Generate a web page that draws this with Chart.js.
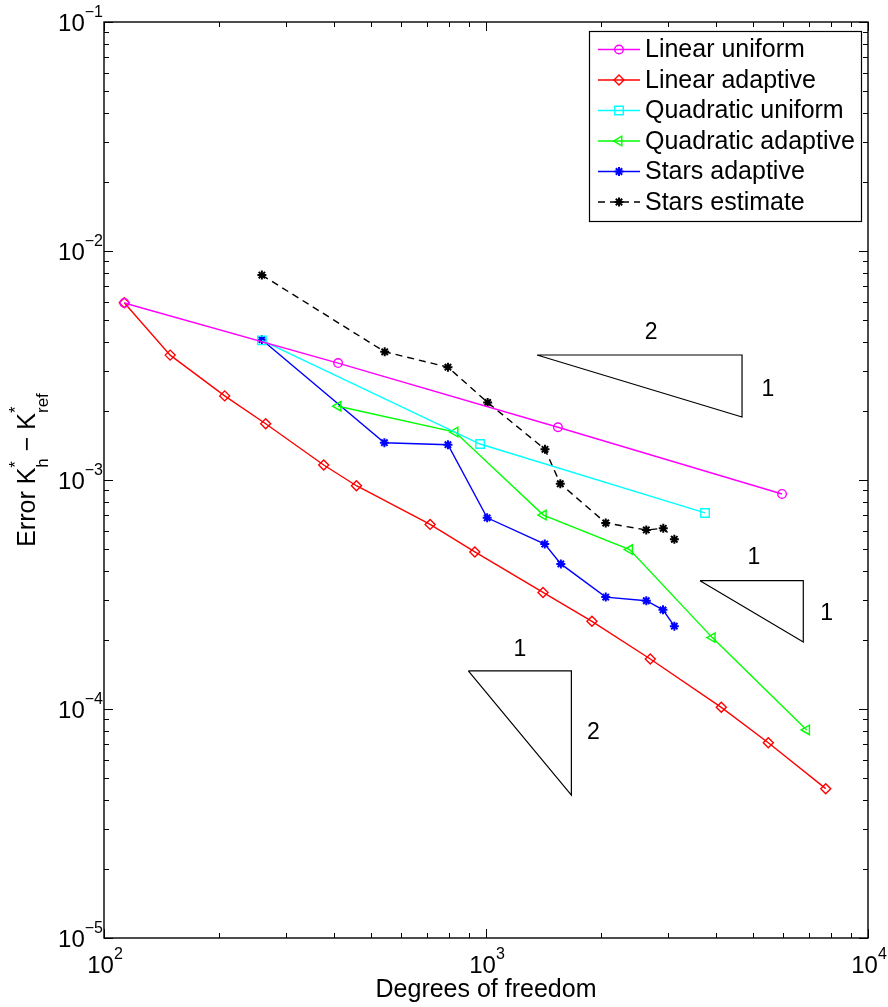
<!DOCTYPE html>
<html>
<head>
<meta charset="utf-8">
<script src="https://cdn.jsdelivr.net/npm/chart.js@4.4.1/dist/chart.umd.min.js"></script>
<style>
html, body { margin: 0; padding: 0; background: #fff; }
canvas { display: block; }
</style>
</head>
<body>
<canvas id="errChart" width="888" height="1007" style="width:888px;height:1007px"></canvas>
<script>
// values
const linUniX = [113, 410, 1543, 5957];
const linUniY = [5.93e-3, 3.24e-3, 1.70e-3, 8.69e-4];
const linAdaX = [113, 149, 207, 265, 376, 458, 714, 935, 1410, 1894, 2692, 4130, 5483, 7751];
const linAdaY = [5.94e-3, 3.51e-3, 2.33e-3, 1.76e-3, 1.163e-3, 9.44e-4, 6.40e-4, 4.85e-4, 3.23e-4, 2.415e-4, 1.653e-4, 1.017e-4, 7.12e-5, 4.49e-5];
const quadUniX = [259, 965, 3745];
const quadUniY = [4.07e-3, 1.436e-3, 7.18e-4];
const quadAdaX = [410, 830, 1413, 2377, 3912, 6910];
const quadAdaY = [2.10e-3, 1.62e-3, 7.03e-4, 4.97e-4, 2.05e-4, 8.1e-5];
const starsAdaX = [259, 542, 795, 1007, 1425, 1570, 2058, 2628, 2906, 3112];
const starsAdaY = [4.10e-3, 1.455e-3, 1.426e-3, 6.84e-4, 5.25e-4, 4.30e-4, 3.08e-4, 2.97e-4, 2.71e-4, 2.30e-4];
const starsEstX = [259, 543, 795, 1010, 1427, 1565, 2058, 2628, 2911, 3112];
const starsEstY = [7.85e-3, 3.63e-3, 3.11e-3, 2.18e-3, 1.362e-3, 9.63e-4, 6.49e-4, 6.05e-4, 6.15e-4, 5.51e-4];

// slope triangles: [left, right] x and [top, bottom] y
const slopeX = [[1360, 4680], [3633, 6770], [899, 1673]];
const slopeY = [[3.514e-3, 1.884e-3], [3.633e-4, 1.962e-4], [1.466e-4, 4.21e-5]];
const slopeText = ['2', '1', '1', '1', '1', '2'];
const slopeTextX = [2704, 5470, 5030, 7798, 1227, 1910];
const slopeTextY = [4.43e-3, 2.497e-3, 4.62e-4, 2.645e-4, 1.841e-4, 7.96e-5];

const xDecades = [2, 3, 4];
const yDecades = [-5, -4, -3, -2, -1];

const FONT = '"Liberation Sans", Arial, Helvetica, sans-serif';

function pts(xs, ys) {
    return xs.map((x, i) => ({x: x, y: ys[i]}));
}

function series(label, xs, ys, color, style, r, extra) {
    return Object.assign({
        label: label,
        data: pts(xs, ys),
        borderColor: color,
        borderWidth: 1.4,
        pointStyle: style,
        pointRadius: r,
        pointHoverRadius: r,
        pointBorderColor: color,
        pointBackgroundColor: 'rgba(0,0,0,0)',
        pointBorderWidth: 1.4,
        fill: false,
        tension: 0,
        inLegend: true
    }, extra || {});
}

let datasets = [
    series('Linear uniform', linUniX, linUniY, '#ff00ff', 'circle', 4.3),
    series('Linear adaptive', linAdaX, linAdaY, '#ff0000', 'rectRot', 5),
    series('Quadratic uniform', quadUniX, quadUniY, '#00ffff', 'rect', 6),
    series('Quadratic adaptive', quadAdaX, quadAdaY, '#00ff00', 'triangle', 5.5, {pointRotation: -90}),
    series('Stars adaptive', starsAdaX, starsAdaY, '#0000ff', 'star', 4.5, {pointBorderWidth: 2}),
    series('Stars estimate', starsEstX, starsEstY, '#000000', 'star', 4.5, {pointBorderWidth: 2, borderDash: [7, 5]})
];

slopeX.forEach((sx, i) => {
    let sy = slopeY[i];
    datasets.push({
        label: '',
        data: [{x: sx[0], y: sy[0]}, {x: sx[1], y: sy[0]}, {x: sx[1], y: sy[1]}, {x: sx[0], y: sy[0]}],
        borderColor: '#000',
        borderWidth: 1.2,
        pointRadius: 0,
        pointHoverRadius: 0,
        fill: false,
        tension: 0,
        inLegend: false
    });
});

// draws text with superscript / subscript pieces, left to right from x
function richWidth(ctx, parts) {
    let w = 0;
    parts.forEach(p => {
        ctx.font = p.size + 'px ' + FONT;
        if (p.t !== undefined) {
            w += ctx.measureText(p.t).width;
        } else {
            w += Math.max(ctx.measureText(p.sup || '').width, ctx.measureText(p.sub || '').width);
        }
    });
    return w;
}

function richDraw(ctx, parts, x, y) {
    parts.forEach(p => {
        ctx.font = p.size + 'px ' + FONT;
        if (p.t !== undefined) {
            ctx.fillText(p.t, x, y + (p.dy || 0));
            x += ctx.measureText(p.t).width;
        } else {
            if (p.sup) ctx.fillText(p.sup, x, y + p.supDy);
            if (p.sub) ctx.fillText(p.sub, x, y + p.subDy);
            x += Math.max(ctx.measureText(p.sup || '').width, ctx.measureText(p.sub || '').width);
        }
    });
}

const framePlugin = {
    id: 'frame',
    afterDraw(chart) {
        const ctx = chart.ctx, a = chart.chartArea;
        const xs = chart.scales.x, ys = chart.scales.y;
        ctx.save();
        ctx.strokeStyle = '#000';
        ctx.fillStyle = '#000';

        // ticks, inside on all four sides
        ctx.lineWidth = 1;
        ctx.beginPath();
        xDecades.forEach((d, i) => {
            for (let k = 1; k <= 9; k++) {
                if (k > 1 && i === xDecades.length - 1) break;
                let px = Math.round(xs.getPixelForValue(k * Math.pow(10, d))) + 0.5;
                let len = k === 1 ? 9 : 5;
                ctx.moveTo(px, a.bottom); ctx.lineTo(px, a.bottom - len);
                ctx.moveTo(px, a.top); ctx.lineTo(px, a.top + len);
            }
        });
        yDecades.forEach((d, i) => {
            for (let k = 1; k <= 9; k++) {
                if (k > 1 && i === yDecades.length - 1) break;
                let py = Math.round(ys.getPixelForValue(k * Math.pow(10, d))) + 0.5;
                let len = k === 1 ? 9 : 5;
                ctx.moveTo(a.left, py); ctx.lineTo(a.left + len, py);
                ctx.moveTo(a.right, py); ctx.lineTo(a.right - len, py);
            }
        });
        ctx.stroke();

        // box
        ctx.lineWidth = 1.4;
        ctx.strokeRect(a.left, a.top, a.right - a.left, a.bottom - a.top);

        // tick labels
        ctx.textBaseline = 'alphabetic';
        ctx.textAlign = 'left';
        xDecades.forEach(d => {
            let px = xs.getPixelForValue(Math.pow(10, d));
            let parts = [{t: '10', size: 24}, {t: String(d), size: 16, dy: -14}];
            let w = richWidth(ctx, parts);
            richDraw(ctx, parts, px - w / 2 + 1, a.bottom + 35);
        });
        yDecades.forEach(d => {
            let py = ys.getPixelForValue(Math.pow(10, d));
            let parts = [{t: '10', size: 24}, {t: '\u2212' + Math.abs(d), size: 16, dy: -14}];
            let w = richWidth(ctx, parts);
            richDraw(ctx, parts, a.left - 1 - w, py + 9);
        });

        // axis titles
        ctx.font = '25px ' + FONT;
        ctx.textAlign = 'center';
        ctx.fillText('Degrees of freedom', (a.left + a.right) / 2, a.bottom + 59);

        ctx.textAlign = 'left';
        let yt = [
            {t: 'Error K', size: 25},
            {sup: '*', sub: 'h', size: 17, supDy: -14, subDy: 13},
            {t: ' \u2212 K', size: 25},
            {sup: '*', sub: 'ref', size: 17, supDy: -14, subDy: 13}
        ];
        let tw = richWidth(ctx, yt);
        ctx.save();
        ctx.translate(35, 470);
        ctx.rotate(-Math.PI / 2);
        richDraw(ctx, yt, -tw / 2, 0);
        ctx.restore();

        // slope labels
        ctx.font = '23px ' + FONT;
        ctx.textAlign = 'center';
        ctx.textBaseline = 'middle';
        slopeText.forEach((s, i) => {
            ctx.fillText(s, xs.getPixelForValue(slopeTextX[i]), ys.getPixelForValue(slopeTextY[i]) + 1);
        });

        // legend
        const lx = 589.5, ly = 31.5, lw = 272, lh = 190;
        ctx.fillStyle = '#fff';
        ctx.fillRect(lx, ly, lw, lh);
        ctx.lineWidth = 1.2;
        ctx.strokeStyle = '#000';
        ctx.strokeRect(lx, ly, lw, lh);
        let row = 0;
        chart.data.datasets.forEach(ds => {
            if (!ds.inLegend) return;
            let cy = 49.5 + row * 30.5;
            ctx.strokeStyle = ds.borderColor;
            ctx.lineWidth = ds.borderWidth;
            ctx.setLineDash(ds.borderDash || []);
            ctx.beginPath();
            ctx.moveTo(598, cy); ctx.lineTo(640, cy);
            ctx.stroke();
            ctx.setLineDash([]);
            ctx.fillStyle = 'rgba(0,0,0,0)';
            ctx.lineWidth = ds.pointBorderWidth;
            Chart.helpers.drawPoint(ctx, {
                pointStyle: ds.pointStyle,
                radius: ds.pointRadius,
                rotation: ds.pointRotation || 0,
                borderWidth: ds.pointBorderWidth
            }, 619, cy);
            ctx.fillStyle = '#000';
            ctx.font = '25px ' + FONT;
            ctx.textAlign = 'left';
            ctx.textBaseline = 'middle';
            ctx.fillText(ds.label, 645, cy + 1);
            row++;
        });
        ctx.restore();
    }
};

new Chart(document.getElementById('errChart'), {
    type: 'line',
    data: {datasets: datasets},
    options: {
        responsive: false,
        animation: false,
        layout: {padding: {left: 104, top: 22, right: 20, bottom: 69}},
        plugins: {legend: {display: false}, tooltip: {enabled: false}},
        events: [],
        scales: {
            x: {type: 'logarithmic', min: 100, max: 10000, display: false},
            y: {type: 'logarithmic', min: 1e-5, max: 1e-1, display: false}
        }
    },
    plugins: [framePlugin]
});
</script>
</body>
</html>
